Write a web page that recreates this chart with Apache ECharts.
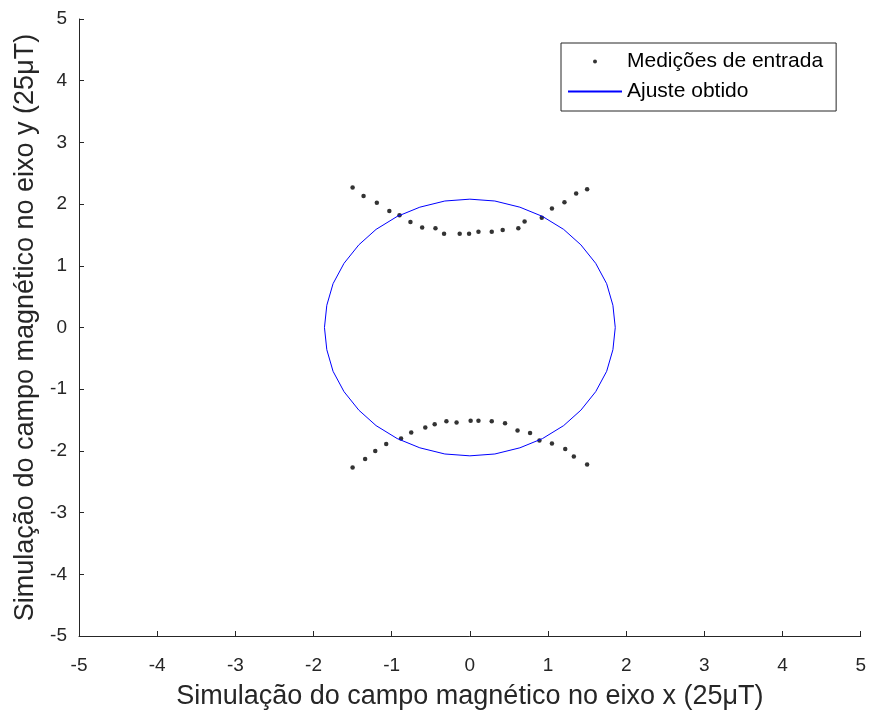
<!DOCTYPE html>
<html>
<head>
<meta charset="utf-8">
<script src="https://cdn.jsdelivr.net/npm/echarts@6/dist/echarts.min.js"></script>
<style>html,body{margin:0;padding:0;background:#fff}#c{width:869px;height:715px}</style>
</head>
<body>
<div id="c"></div>
<script>
// Medições de entrada (top arc, then bottom arc)
var measX = [-1.50,-1.36,-1.19,-1.03,-0.90,-0.76,-0.61,-0.44,-0.33,-0.13,-0.01,0.11,0.28,0.42,0.62,0.70,0.92,1.05,1.21,1.36,1.50,
             -1.50,-1.34,-1.21,-1.07,-0.88,-0.75,-0.57,-0.45,-0.30,-0.17,0.01,0.11,0.28,0.45,0.61,0.77,0.89,1.05,1.22,1.33,1.50];
var measY = [2.27,2.13,2.02,1.89,1.82,1.71,1.62,1.61,1.52,1.52,1.52,1.55,1.55,1.58,1.61,1.72,1.78,1.93,2.03,2.17,2.24,
             -2.27,-2.13,-2.00,-1.89,-1.80,-1.70,-1.62,-1.57,-1.52,-1.54,-1.51,-1.51,-1.52,-1.55,-1.67,-1.71,-1.83,-1.88,-1.97,-2.09,-2.22];
// Ajuste obtido (fitted ellipse)
var fitX = [1.86,1.83,1.75,1.61,1.42,1.20,0.93,0.64,0.32,0,
            -0.32,-0.64,-0.93,-1.20,-1.42,-1.61,-1.75,-1.83,-1.86,
            -1.83,-1.75,-1.61,-1.42,-1.20,-0.93,-0.64,-0.32,0,
            0.32,0.64,0.93,1.20,1.42,1.61,1.75,1.83,1.86];
var fitY = [0,0.36,0.71,1.04,1.34,1.59,1.80,1.95,2.05,2.08,
            2.05,1.95,1.80,1.59,1.34,1.04,0.71,0.36,0,
            -0.36,-0.71,-1.04,-1.34,-1.59,-1.80,-1.95,-2.05,-2.08,
            -2.05,-1.95,-1.80,-1.59,-1.34,-1.04,-0.71,-0.36,0];
var seriesNames = ['Medições de entrada', 'Ajuste obtido'];
var xTitle = 'Simulação do campo magnético no eixo x (25μT)';
var yTitle = 'Simulação do campo magnético no eixo y (25μT)';
var axisMin = -5, axisMax = 5, axisStep = 1;

function pairs(xs, ys){ return xs.map(function(v,i){ return [v, ys[i]]; }); }

var font = '"Liberation Sans", Arial, Helvetica, sans-serif';
var axisCol = '#262626';
function axis(name, isX){
  return {
    type: 'value', min: axisMin, max: axisMax, interval: axisStep,
    name: name, nameLocation: 'middle', nameGap: isX ? 47 : 39,
    nameTextStyle: { fontFamily: font, fontSize: 27, color: axisCol },
    axisLine: { show: true, onZero: false, lineStyle: { color: axisCol, width: 1 } },
    axisTick: { show: true, inside: true, length: 5, lineStyle: { color: axisCol } },
    axisLabel: { fontFamily: font, fontSize: 19, color: axisCol, margin: isX ? 20 : 12 },
    splitLine: { show: false }
  };
}

var chart = echarts.init(document.getElementById('c'), null, { renderer: 'canvas' });
chart.setOption({
  backgroundColor: '#fff',
  animation: false,
  grid: { left: 79, right: 7, top: 19, bottom: 78, containLabel: false },
  xAxis: axis(xTitle, true),
  yAxis: axis(yTitle, false),
  legend: {
    orient: 'vertical', left: 561, top: 43,
    data: [
      { name: seriesNames[0], icon: 'circle', itemStyle: { color: '#000' } },
      { name: seriesNames[1], icon: 'path://M0,0L54,0L54,2L0,2Z', itemStyle: { color: '#0000ff', borderWidth: 0 } }
    ],
    itemWidth: 54, itemHeight: 4, itemGap: 9,
    padding: [8, 13, 9, 7],
    borderColor: axisCol, borderWidth: 1, backgroundColor: '#fff',
    textStyle: { fontFamily: font, fontSize: 21, color: '#000' }
  },
  series: [
    { name: seriesNames[0], type: 'scatter', data: pairs(measX, measY),
      symbol: 'circle', symbolSize: 4.5, itemStyle: { color: '#000' } },
    { name: seriesNames[1], type: 'line', data: pairs(fitX, fitY),
      symbol: 'none', smooth: false, lineStyle: { color: '#0000ff', width: 1 },
      itemStyle: { color: '#0000ff' } }
  ]
});
</script>
</body>
</html>
